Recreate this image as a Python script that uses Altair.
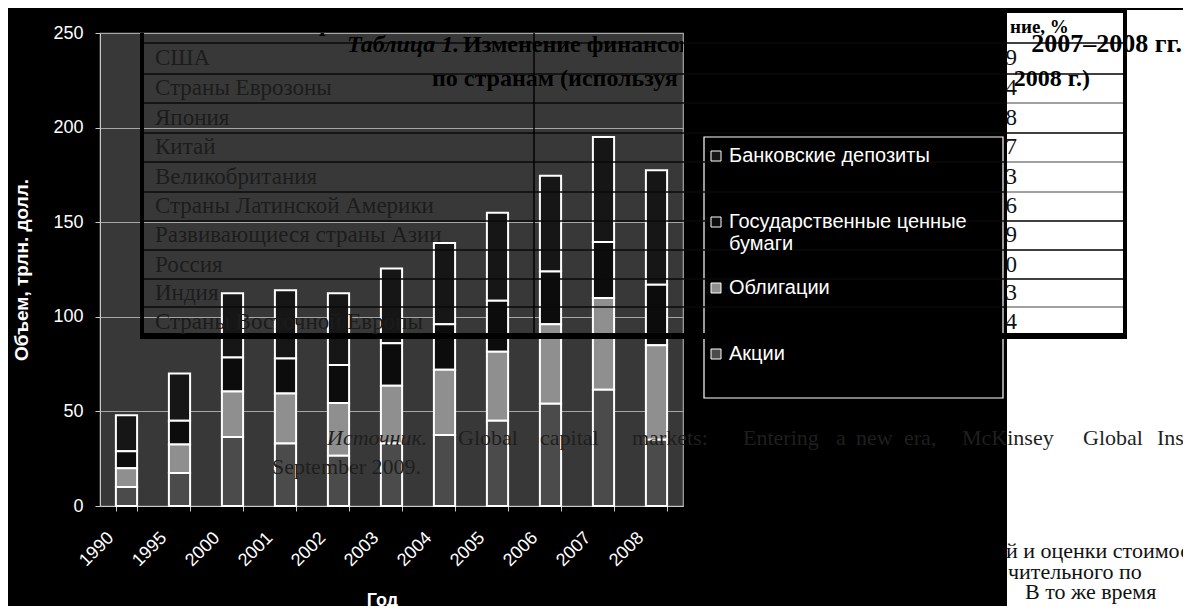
import altair as alt
import pandas as pd

# ---------------- data ----------------
years = ["1990", "1995", "2000", "2001", "2002", "2003", "2004", "2005", "2006", "2007", "2008"]
akcii = [10, 17.5, 36.5, 33, 26.5, 33, 37.5, 45, 54, 61.5, 35]
obligacii = [10, 15, 24, 26.5, 28, 30.5, 34.5, 36.5, 42, 48.5, 50]
gos_bumagi = [9, 12.5, 18, 18.5, 20, 22.5, 24, 27, 28, 29.5, 32]
bank_depozity = [19, 25, 34, 36, 38, 39.5, 43, 46.5, 50.5, 55.5, 60.5]

series_names = ["Банковские депозиты", "Государственные ценные бумаги", "Облигации", "Акции"]
series_values = [bank_depozity, gos_bumagi, obligacii, akcii]
series_colors = ["#161616", "#0c0c0c", "#8f8f8f", "#4b4b4b"]
stack_rank = [3, 2, 1, 0]  # Акции at the bottom

y_ticks = [0, 50, 100, 150, 200, 250]

# document overlay text (table of the page behind the chart)
countries = ["США", "Страны Еврозоны", "Япония", "Китай", "Великобритания",
             "Страны Латинской Америки", "Развивающиеся страны Азии", "Россия",
             "Индия", "Страны Восточной Европы"]
country_digits = ["9", "4", "8", "7", "3", "6", "9", "0", "3", "4"]

rows = []
for name, vals, rk in zip(series_names, series_values, stack_rank):
    for yr, v in zip(years, vals):
        rows.append({"year": yr, "series": name, "value": v, "rank": rk})
df = pd.DataFrame(rows)

# ---------------- layout (page pixels -> plot pixels) ----------------
W, H = 583, 473
OX, OY = 100, 33
PAD = {"left": OX - 8, "top": OY - 8, "right": 1175 - (OX - 8) - W, "bottom": 598 - (OY - 8) - H}


def px(x):
    return x - OX


def py(y):
    return y - OY


row_y = [58, 88, 118, 147, 177, 206, 235, 265, 293, 322]
line_y = [43, 74, 103, 133, 162, 192, 221, 250, 279, 307]
white_line_col = ["#000000", "#000000", "#808080", "#000000", "#808080", "#808080",
                  "#000000", "#000000", "#000000", "#808080"]

lines = []
for ly, wc in zip(line_y, white_line_col):
    lines.append({"x": px(140), "x2": px(1007), "y": py(ly), "y2": py(ly), "c": "#0a0a0a", "w": 1.6})
    lines.append({"x": px(1007), "x2": px(1126), "y": py(ly), "y2": py(ly), "c": wc, "w": 1.6})
lines.append({"x": px(140), "x2": px(1127), "y": py(336), "y2": py(336), "c": "#000000", "w": 6})
lines.append({"x": px(1007), "x2": px(1127), "y": py(11.5), "y2": py(11.5), "c": "#000000", "w": 3})
lines.append({"x": px(142), "x2": px(142), "y": py(33), "y2": py(339), "c": "#000000", "w": 4})
lines.append({"x": px(534), "x2": px(534), "y": py(33), "y2": py(339), "c": "#000000", "w": 1.5})
lines.append({"x": px(1125), "x2": px(1125), "y": py(10), "y2": py(339), "c": "#000000", "w": 4})
lines_df = pd.DataFrame(lines)

white_df = pd.DataFrame([{"x": px(1007), "x2": px(1200), "y": py(10), "y2": py(620)}])
frame_df = pd.DataFrame([{"x": px(704), "x2": px(1003), "y": py(137), "y2": py(398)}])

countries_df = pd.DataFrame({"t": countries, "x": px(155), "y": [py(v) for v in row_y]})
digits_df = pd.DataFrame({"t": country_digits, "x": px(1017), "y": [py(v) for v in row_y]})

# texts that lie inside the plot (clipped to it, as in the picture)
head_left_df = pd.DataFrame([
    {"t": "Страна", "x": px(290), "y": py(24)},
    {"t": "Изменение", "x": px(543), "y": py(24)},
    {"t": "Изменение финансовых", "x": px(463), "y": py(45)},
    {"t": "по странам (используя", "x": px(432), "y": py(79)},
])
title_italic_df = pd.DataFrame([{"t": "Таблица 1.", "x": px(347), "y": py(45)}])
# visible fragments on the white strip at the right
head_frag_df = pd.DataFrame([{"t": "ние, %", "x": px(1010), "y": py(27)}])
head_right_df = pd.DataFrame([{"t": "2008 г.)", "x": px(1090), "y": py(79)}])
head_right_big_df = pd.DataFrame([{"t": "2007–2008 гг.", "x": px(1182), "y": py(44)}])

source_italic_df = pd.DataFrame([{"t": "Источник.", "x": px(327), "y": py(438)}])
source_words = ["Global", "capital", "markets:", "Entering", "a", "new", "era,",
                "McKinsey", "Global", "Institute,"]
source_x = [458, 540, 632, 743, 836, 856, 904, 962, 1083, 1157]
source_df = pd.DataFrame({"t": source_words + ["September 2009."],
                          "x": [px(v) for v in source_x] + [px(272)],
                          "y": [py(438)] * len(source_words) + [py(467)]})
body_df = pd.DataFrame([
    {"t": "й и оценки стоимости", "x": px(1006), "y": py(551)},
    {"t": "чительного  по", "x": px(1008), "y": py(572)},
    {"t": "В то же время", "x": px(1025), "y": py(592)},
    {"t": "м рыночных", "x": px(1008), "y": py(612)},
])

AX_FONT = "Liberation Sans"
SERIF = "Liberation Serif"

# ---------------- chart ----------------
legend = alt.Legend(
    orient="none", legendX=px(706), legendY=py(146), title=None,
    symbolType="square", symbolSize=100, symbolStrokeColor="white", symbolStrokeWidth=1,
    labelColor="white", labelFont=AX_FONT, labelFontSize=20, labelLimit=400,
    labelOffset=3, rowPadding=24, padding=0,
    labelExpr="datum.label == 'Государственные ценные бумаги' ? ['Государственные ценные', 'бумаги'] : [datum.label, '']",
)

bars = alt.Chart(df).mark_bar(stroke="white", strokeWidth=2).encode(
    x=alt.X("year:N", sort=years,
            scale=alt.Scale(paddingInner=0.6, paddingOuter=0.3),
            axis=alt.Axis(title="Год", tickBand="extent", grid=False,
                          labelAngle=-45, labelAlign="right", labelBaseline="middle",
                          labelOffset=-16, labelPadding=24,
                          labelColor="white", labelFont=AX_FONT, labelFontSize=18,
                          tickColor="#c8c8c8", tickSize=5, domainColor="#c8c8c8",
                          titleColor="white", titleFont=AX_FONT, titleFontSize=18,
                          titleFontWeight="bold", titleX=282, titleY=94,
                          titleAlign="center", titleBaseline="middle")),
    y=alt.Y("value:Q", stack="zero",
            scale=alt.Scale(domain=[0, 250], nice=False),
            axis=alt.Axis(title="Объем, трлн. долл.", values=y_ticks, grid=True,
                          gridColor="#a6a6a6", gridWidth=1.2,
                          tickSize=5, tickColor="#c8c8c8", domainColor="#c8c8c8",
                          labelPadding=12, labelColor="white", labelFont=AX_FONT,
                          labelFontSize=18,
                          titleColor="white", titleFont=AX_FONT, titleFontSize=19,
                          titleFontWeight="bold", titleX=-79, titleY=H / 2,
                          titleAngle=-90, titleAlign="center", titleBaseline="middle")),
    color=alt.Color("series:N", scale=alt.Scale(domain=series_names, range=series_colors),
                    legend=legend),
    order=alt.Order("rank:Q", sort="ascending"),
)

white_rect = alt.Chart(white_df).mark_rect(color="white").encode(
    x=alt.X("x:Q", scale=None, axis=None), x2="x2:Q",
    y=alt.Y("y:Q", scale=None, axis=None), y2="y2:Q",
)
frame = alt.Chart(frame_df).mark_rect(filled=False, color="white", strokeWidth=1.2).encode(
    x=alt.X("x:Q", scale=None, axis=None), x2="x2:Q",
    y=alt.Y("y:Q", scale=None, axis=None), y2="y2:Q",
)
table_lines = alt.Chart(lines_df).mark_rule().encode(
    x=alt.X("x:Q", scale=None, axis=None), x2="x2:Q",
    y=alt.Y("y:Q", scale=None, axis=None), y2="y2:Q",
    color=alt.Color("c:N", scale=None, legend=None),
    strokeWidth=alt.StrokeWidth("w:Q", scale=None, legend=None),
)


def text_layer(data, color, size, align="left", weight="normal", style="normal", clip=False):
    return alt.Chart(data).mark_text(
        align=align, baseline="middle", font=SERIF, fontSize=size,
        fontWeight=weight, fontStyle=style, color=color, clip=clip,
    ).encode(
        x=alt.X("x:Q", scale=None, axis=None),
        y=alt.Y("y:Q", scale=None, axis=None),
        text="t:N",
    )


t_countries = text_layer(countries_df, "#1c1c1c", 23, clip=True)
t_digits = text_layer(digits_df, "#111111", 23, align="right")
t_head_l = text_layer(head_left_df, "#000000", 24, weight="bold", clip=True)
t_title_i = text_layer(title_italic_df, "#000000", 24, weight="bold", style="italic", clip=True)
t_head_f = text_layer(head_frag_df, "#000000", 19, weight="bold")
t_head_r = text_layer(head_right_df, "#000000", 24, align="right", weight="bold")
t_head_rb = text_layer(head_right_big_df, "#000000", 26, align="right", weight="bold")
t_src_i = text_layer(source_italic_df, "#1f1f1f", 22, style="italic")
t_src = text_layer(source_df, "#1f1f1f", 22)
t_body = text_layer(body_df, "#111111", 22)

chart = alt.layer(
    bars, white_rect, frame, table_lines,
    t_countries, t_digits, t_head_l, t_title_i, t_head_f, t_head_r, t_head_rb,
    t_src_i, t_src, t_body,
).resolve_scale(
    x="independent", y="independent", color="independent", strokeWidth="independent"
).properties(
    width=W, height=H, padding=PAD,
    autosize=alt.AutoSizeParams(type="none"),
    background="black",
).configure_view(
    fill="#383838", stroke="#a6a6a6", strokeWidth=1.2,
)

chart.save("out.html", embed_options={"renderer": "svg", "actions": False})
